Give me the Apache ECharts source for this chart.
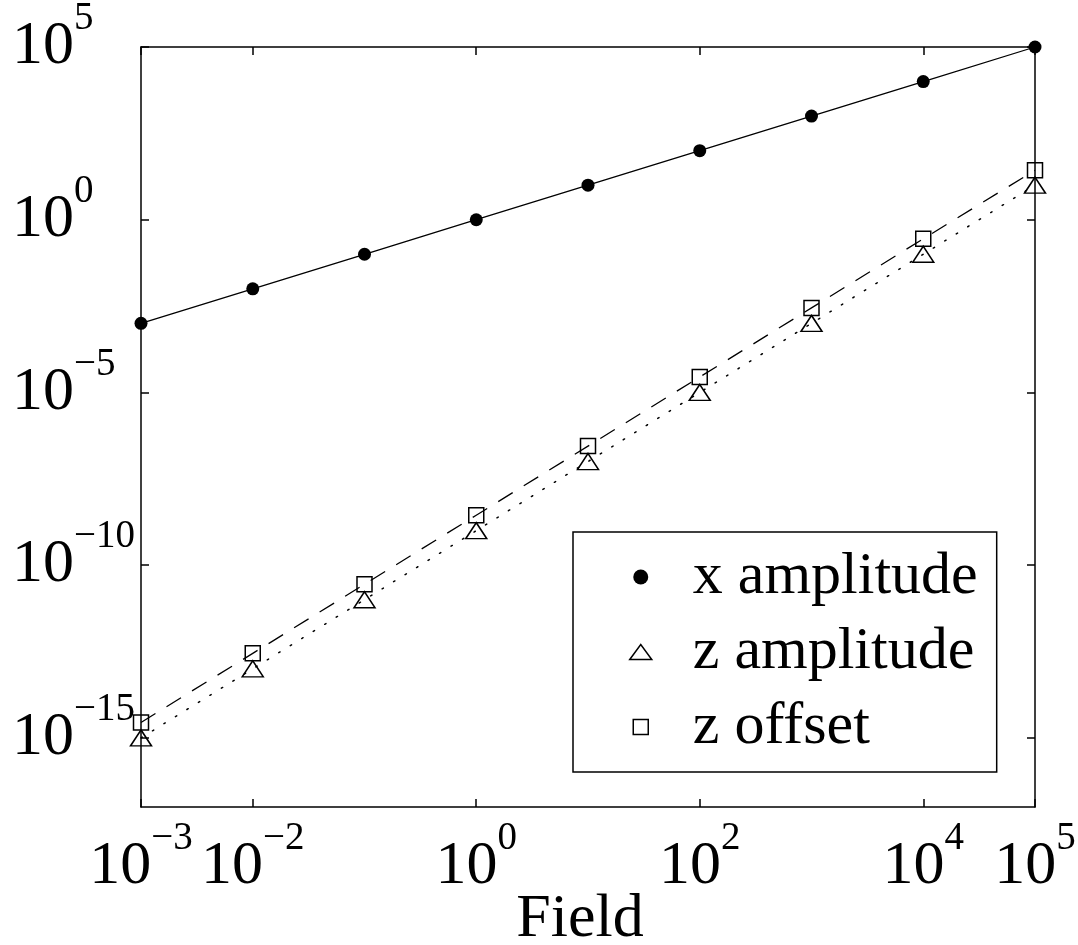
<!DOCTYPE html>
<html><head><meta charset="utf-8">
<script src="https://cdn.jsdelivr.net/npm/echarts@6/dist/echarts.min.js"></script>
<style>html,body{margin:0;padding:0;background:#fff}#c{width:1078px;height:945px}</style>
</head><body><div id="c"></div>
<script>
const fieldValues = [1e-3, 1e-2, 1e-1, 1e0, 1e1, 1e2, 1e3, 1e4, 1e5];
const xAmplitude = [1e-3, 1e-2, 1e-1, 1e0, 1e1, 1e2, 1e3, 1e4, 1e5];
const zAmplitude = [1e-15, 1e-13, 1e-11, 1e-9, 1e-7, 1e-5, 1e-3, 1e-1, 1e1];
const zOffset = [2.8e-15, 2.8e-13, 2.8e-11, 2.8e-9, 2.8e-7, 2.8e-5, 2.8e-3, 2.8e-1, 2.7e1];
const xTickValues = [1e-3, 1e-2, 1e0, 1e2, 1e4, 1e5];
const yTickValues = [1e-15, 1e-10, 1e-5, 1e0, 1e5];
const seriesNames = ['x amplitude', 'z amplitude', 'z offset'];
const xAxisName = 'Field';

const FONT = 'Liberation Serif';
const pairs = (xs, ys) => xs.map((x, i) => [x, ys[i]]);
const powLabel = v => {
  const e = Math.round(Math.log10(v));
  return '{b|10}{s|' + (e < 0 ? '\u2212' + (-e) : e) + '}';
};
const rich = {
  b: {fontFamily: FONT, fontSize: 62, lineHeight: 62, color: '#000'},
  s: {fontFamily: FONT, fontSize: 39, lineHeight: 6, height: 6, verticalAlign: 'top', color: '#000'}
};
const axisLineStyle = {color: '#000', width: 1.5};

function makeAxis(kind, pos, ticks, min, max, labels) {
  const a = {
    type: 'log', logBase: 10, min: min, max: max, position: pos,
    axisLine: {show: true, lineStyle: axisLineStyle},
    axisTick: {show: true, inside: true, length: 8, customValues: ticks, lineStyle: axisLineStyle},
    splitLine: {show: false}, minorTick: {show: false},
    axisLabel: {show: labels, customValues: ticks, formatter: powLabel, rich: rich,
      showMinLabel: true, showMaxLabel: true}
  };
  if (kind === 'x') {
    a.axisLabel.margin = 29;
  } else {
    a.axisLabel.margin = 129;
    a.axisLabel.align = 'left';
  }
  return a;
}

const xMain = makeAxis('x', 'bottom', xTickValues, 1e-3, 1e5, true);
xMain.name = xAxisName;
xMain.nameLocation = 'middle';
xMain.nameGap = 82;
xMain.nameMoveOverlap = false;
xMain.nameTextStyle = {fontFamily: FONT, fontSize: 62, lineHeight: 62, color: '#000', padding: [0, 16, 0, 0]};
const xTop = makeAxis('x', 'top', xTickValues, 1e-3, 1e5, false);
const yMain = makeAxis('y', 'left', yTickValues, 1e-17, 1e5, true);
const yRight = makeAxis('y', 'right', yTickValues, 1e-17, 1e5, false);

const hollow = {color: 'rgba(0,0,0,0)', borderColor: '#000', borderWidth: 1.5, opacity: 1};

const chart = echarts.init(document.getElementById('c'), null, {renderer: 'canvas'});
chart.setOption({
  backgroundColor: '#fff',
  animation: false,
  grid: {left: 141, right: 43, top: 47, bottom: 138, containLabel: false, outerBoundsMode: 'none'},
  xAxis: [xMain, xTop],
  yAxis: [yMain, yRight],
  legend: {
    orient: 'vertical', left: 573, top: 532,
    padding: [15, 19, 15, 56],
    borderColor: '#000', borderWidth: 1.5, backgroundColor: '#fff',
    itemWidth: 22, itemHeight: 15, itemGap: 15,
    selectedMode: false,
    formatter: '{t|{name}}',
    textStyle: {fontFamily: FONT, fontSize: 60, lineHeight: 60, color: '#000',
      rich: {t: {fontFamily: FONT, fontSize: 60, lineHeight: 60, color: '#000', padding: [0, 0, 0, 36]}}},
    data: [
      {name: seriesNames[0], icon: 'circle', itemStyle: {color: '#000', borderWidth: 0, opacity: 1}},
      {name: seriesNames[1], icon: 'path://M0,15L11,0L22,15Z', itemStyle: hollow},
      {name: seriesNames[2], icon: 'path://M0,0L15,0L15,15L0,15Z', itemStyle: hollow}
    ]
  },
  series: [
    {type: 'line', name: 'x fit', data: pairs(fieldValues, xAmplitude), symbol: 'none', silent: true,
      lineStyle: {color: '#000', width: 1.3, type: 'solid'}, z: 2},
    {type: 'line', name: 'z amp fit', data: pairs(fieldValues, zAmplitude), symbol: 'none', silent: true,
      lineStyle: {color: '#000', width: 1.5, type: [1.5, 12], cap: 'round'}, z: 2},
    {type: 'line', name: 'z off fit', data: pairs(fieldValues, zOffset), symbol: 'none', silent: true,
      lineStyle: {color: '#000', width: 1.3, type: [17, 13]}, z: 2},
    {type: 'scatter', name: seriesNames[0], data: pairs(fieldValues, xAmplitude), symbol: 'circle', symbolSize: 13,
      itemStyle: {color: '#000', opacity: 1}, clip: false, z: 3},
    {type: 'scatter', name: seriesNames[1], data: pairs(fieldValues, zAmplitude), symbol: 'triangle', symbolSize: [21, 16],
      itemStyle: hollow, clip: false, z: 3},
    {type: 'scatter', name: seriesNames[2], data: pairs(fieldValues, zOffset), symbol: 'rect', symbolSize: 15,
      itemStyle: hollow, clip: false, z: 3}
  ]
});
</script>
</body></html>
